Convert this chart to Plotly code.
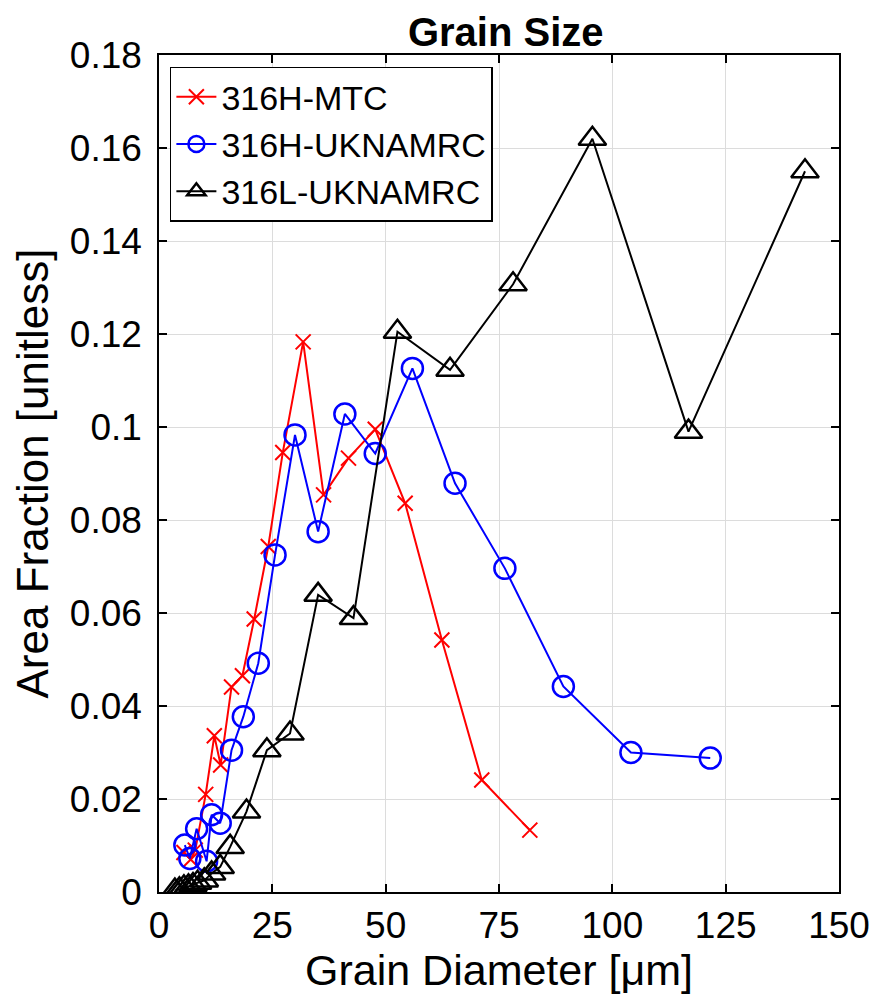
import plotly.graph_objects as go

# ---- data ----
mtc_x = [5.5, 7.0, 8.0, 10.3, 12.2, 13.6, 16.0, 18.4, 21.0, 24.1, 27.3, 31.8, 36.3, 41.8, 47.7, 54.3, 62.4, 71.2, 81.8]
mtc_y = [0.0085, 0.0070, 0.0090, 0.0210, 0.0336, 0.0273, 0.0441, 0.0465, 0.0587, 0.0743, 0.0945, 0.1183, 0.0854, 0.0933, 0.0995, 0.0836, 0.0542, 0.0241, 0.0133]

hukn_x = [5.7, 6.8, 8.3, 10.5, 11.6, 13.5, 16.0, 18.6, 21.9, 25.6, 30.0, 35.1, 41.0, 47.7, 55.9, 65.3, 76.3, 89.2, 104.1, 121.6]
hukn_y = [0.0101, 0.0072, 0.0136, 0.0066, 0.0166, 0.0148, 0.0305, 0.0377, 0.0492, 0.0725, 0.0983, 0.0775, 0.1028, 0.0943, 0.1126, 0.0879, 0.0696, 0.0442, 0.0300, 0.0288]

lukn_x = [3.5, 4.5, 5.5, 6.5, 7.5, 8.5, 10.0, 11.6, 13.5, 15.7, 19.3, 23.8, 28.9, 35.1, 42.9, 52.6, 64.2, 78.1, 95.6, 116.8, 142.5]
lukn_y = [0.0003, 0.0006, 0.0010, 0.0012, 0.0015, 0.0020, 0.0025, 0.0040, 0.0054, 0.0097, 0.0173, 0.0305, 0.0341, 0.0639, 0.0589, 0.1205, 0.1123, 0.1307, 0.1620, 0.0990, 0.1550]

x_ticks = [0, 25, 50, 75, 100, 125, 150]
y_ticks = [0, 0.02, 0.04, 0.06, 0.08, 0.1, 0.12, 0.14, 0.16, 0.18]
y_ticktext = ["0", "0.02", "0.04", "0.06", "0.08", "0.1", "0.12", "0.14", "0.16", "0.18"]

FONT = "Liberation Sans, Arial, sans-serif"

fig = go.Figure()
fig.add_trace(go.Scatter(
    x=mtc_x, y=mtc_y, name="316H-MTC", mode="lines+markers",
    line=dict(color="#ff0000", width=2),
    marker=dict(symbol="x-thin-open", size=15, color="#ff0000",
                line=dict(color="#ff0000", width=2)),
))
fig.add_trace(go.Scatter(
    x=hukn_x, y=hukn_y, name="316H-UKNAMRC", mode="lines+markers",
    line=dict(color="#0000ff", width=2),
    marker=dict(symbol="circle-open", size=21, color="#0000ff",
                line=dict(color="#0000ff", width=2.5)),
))
fig.add_trace(go.Scatter(
    x=lukn_x, y=lukn_y, name="316L-UKNAMRC", mode="lines+markers",
    line=dict(color="#000000", width=2),
    marker=dict(symbol="triangle-up-open", size=24, color="#000000",
                line=dict(color="#000000", width=2.5)),
))

axis_common = dict(
    showline=True, linecolor="black", linewidth=1.5, mirror="ticks",
    ticks="inside", ticklen=8, tickwidth=1.5, tickcolor="black",
    showgrid=True, gridcolor="#dcdcdc", gridwidth=1, zeroline=False,
    tickfont=dict(family=FONT, size=37, color="black"),
)

fig.update_xaxes(
    range=[0, 150], tickvals=x_ticks,
    title=dict(text="Grain Diameter [μm]", font=dict(family=FONT, size=43, color="black"), standoff=10),
    **axis_common,
)
fig.update_yaxes(
    range=[0, 0.18], tickvals=y_ticks, ticktext=y_ticktext, ticklabelstandoff=8,
    title=dict(text="Area Fraction [unitless]", font=dict(family=FONT, size=44, color="black"), standoff=8),
    **axis_common,
)

fig.update_layout(
    width=881, height=1008,
    margin=dict(l=151, r=50, t=47, b=124),
    paper_bgcolor="white", plot_bgcolor="white",
    title=dict(text="<b>Grain Size</b>", x=0.565, xanchor="center", y=0.976, yanchor="middle",
               font=dict(family=FONT, size=40, color="black")),
    legend=dict(x=0.016, y=0.986, xanchor="left", yanchor="top",
                bgcolor="white", bordercolor="black", borderwidth=1.5,
                font=dict(family=FONT, size=34, color="black"),
                tracegroupgap=0, itemwidth=40),
    showlegend=True,
)

fig.write_html("out.html")
